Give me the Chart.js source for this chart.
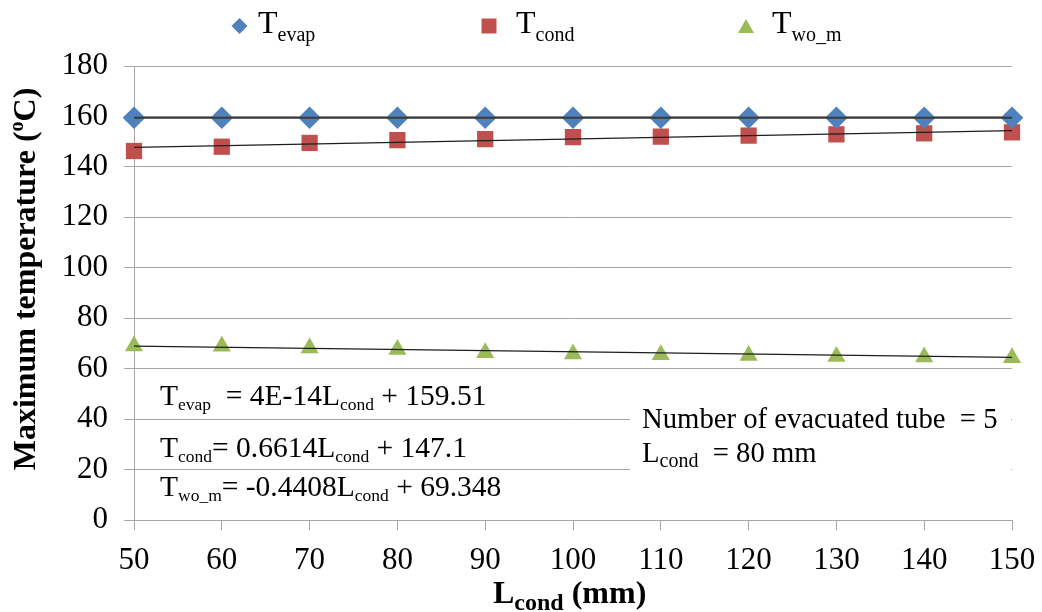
<!DOCTYPE html>
<html><head><meta charset="utf-8">
<script src="https://cdn.jsdelivr.net/npm/chart.js@4.4.1/dist/chart.umd.min.js"></script>
<style>html,body{margin:0;padding:0;background:#fff;} canvas{display:block;}</style>
</head><body>
<canvas id="c" width="1042" height="612"></canvas>
<script>
// ---- data ----
const lCond = [50, 60, 70, 80, 90, 100, 110, 120, 130, 140, 150];
const tEvap = [159.5, 159.5, 159.5, 159.5, 159.5, 159.5, 159.5, 159.5, 159.5, 159.5, 159.5];
const tCond = [146.3, 148.0, 149.5, 150.6, 151.0, 151.8, 152.0, 152.4, 152.9, 153.3, 153.7];
const tWoM  = [69.0, 68.9, 68.2, 67.6, 66.3, 65.8, 65.5, 65.2, 64.8, 64.6, 64.3];
const trendX = [50, 150];
const tEvapTrend = [159.51, 159.51];
const tCondTrend = [147.76, 154.38];
const tWoMTrend  = [68.91, 64.50];
const xTicks = [50, 60, 70, 80, 90, 100, 110, 120, 130, 140, 150];
const yTicks = [0, 20, 40, 60, 80, 100, 120, 140, 160, 180];

const FAM = '"Liberation Serif", "Times New Roman", serif';
const BLUE = '#4F81BD', RED = '#C0504D', GREEN = '#9BBB59', GRID = '#A6A6A6';

Chart.defaults.font.family = FAM;

function pts(xs, ys) { return xs.map((x, i) => ({ x: x, y: ys[i] })); }

function rich(ctx, x, y, parts) {
  for (const p of parts) {
    ctx.font = (p.bold ? 'bold ' : '') + p.size + 'px ' + FAM;
    ctx.fillText(p.t, x, y + (p.dy || 0));
    x += ctx.measureText(p.t).width;
  }
  return x;
}
function richWidth(ctx, parts) {
  let w = 0;
  for (const p of parts) {
    ctx.font = (p.bold ? 'bold ' : '') + p.size + 'px ' + FAM;
    w += ctx.measureText(p.t).width;
  }
  return w;
}

const decor = {
  id: 'decor',
  afterDatasetsDraw(chart) {
    const ctx = chart.ctx;
    ctx.save();
    ctx.fillStyle = '#fff';
    ctx.fillRect(630, 385, 381, 115);
    ctx.restore();
  },
  afterDraw(chart) {
    const ctx = chart.ctx;
    ctx.save();
    ctx.fillStyle = '#000';
    ctx.textBaseline = 'alphabetic';
    ctx.textAlign = 'left';

    // legend markers
    ctx.fillStyle = BLUE;
    ctx.beginPath();
    ctx.moveTo(239.5, 18); ctx.lineTo(247.5, 26); ctx.lineTo(239.5, 34); ctx.lineTo(231.5, 26);
    ctx.closePath(); ctx.fill();
    ctx.fillStyle = RED;
    ctx.fillRect(481.5, 18.5, 15, 15);
    ctx.fillStyle = GREEN;
    ctx.beginPath();
    ctx.moveTo(746, 19); ctx.lineTo(754, 33); ctx.lineTo(738, 33);
    ctx.closePath(); ctx.fill();

    ctx.fillStyle = '#000';
    rich(ctx, 258, 33, [{t:'T', size:32}, {t:'evap', size:20, dy:8}]);
    rich(ctx, 516, 33, [{t:'T', size:32}, {t:'cond', size:20, dy:8}]);
    rich(ctx, 772, 33, [{t:'T', size:32}, {t:'wo_m', size:20, dy:8}]);

    // equations
    rich(ctx, 160, 405, [{t:'T', size:29.5}, {t:'evap', size:17.5, dy:5}, {t:'  = 4E-14L', size:29.5}, {t:'cond', size:17.5, dy:5}, {t:' + 159.51', size:29.5}]);
    rich(ctx, 160, 457, [{t:'T', size:29.5}, {t:'cond', size:17.5, dy:5}, {t:'= 0.6614L', size:29.5}, {t:'cond', size:17.5, dy:5}, {t:' + 147.1', size:29.5}]);
    rich(ctx, 160, 496, [{t:'T', size:29.5}, {t:'wo_m', size:17.5, dy:5}, {t:'= -0.4408L', size:29.5}, {t:'cond', size:17.5, dy:5}, {t:' + 69.348', size:29.5}]);

    // conditions box
    rich(ctx, 642, 428, [{t:'Number of evacuated tube  = 5', size:28.7}]);
    rich(ctx, 642, 462, [{t:'L', size:28.7}, {t:'cond', size:20, dy:5}, {t:'  = 80 mm', size:28.7}]);

    // x title
    rich(ctx, 493, 603, [{t:'L', size:32, bold:true}, {t:'cond', size:24, bold:true, dy:7}, {t:' (mm)', size:32, bold:true}]);

    // y title
    const yParts = [{t:'Maximum temperature (', size:32, bold:true}, {t:'o', size:20, bold:true, dy:-12}, {t:'C)', size:32, bold:true}];
    const w = richWidth(ctx, yParts);
    ctx.translate(35, 279);
    ctx.rotate(-Math.PI / 2);
    rich(ctx, -w / 2, 0, yParts);
    ctx.restore();
  }
};

new Chart(document.getElementById('c'), {
  type: 'scatter',
  data: {
    datasets: [
      { type: 'line', data: pts(trendX, tEvapTrend), borderColor: '#3a3a3a', borderWidth: 2, pointRadius: 0, fill: false, order: 1, clip: false },
      { type: 'line', data: pts(trendX, tCondTrend), borderColor: '#1e1e1e', borderWidth: 1.3, pointRadius: 0, fill: false, order: 1, clip: false },
      { type: 'line', data: pts(trendX, tWoMTrend), borderColor: '#1e1e1e', borderWidth: 1.3, pointRadius: 0, fill: false, order: 1, clip: false },
      { label: 'Tevap', data: pts(lCond, tEvap), pointStyle: 'rectRot', pointRadius: 11.3, backgroundColor: BLUE, borderColor: BLUE, borderWidth: 0, order: 2, clip: false },
      { label: 'Tcond', data: pts(lCond, tCond), pointStyle: 'rect', pointRadius: 11.5, backgroundColor: RED, borderColor: RED, borderWidth: 0, order: 2, clip: false },
      { label: 'Two_m', data: pts(lCond, tWoM), pointStyle: 'triangle', pointRadius: 10.5, backgroundColor: GREEN, borderColor: GREEN, borderWidth: 0, order: 2, clip: false }
    ]
  },
  options: {
    responsive: false,
    animation: false,
    layout: { autoPadding: false, padding: { top: 66, right: 30, left: 0, bottom: 0 } },
    plugins: { legend: { display: false }, tooltip: { enabled: false } },
    scales: {
      x: {
        type: 'linear', min: 50, max: 150,
        afterBuildTicks: s => { s.ticks = xTicks.map(v => ({ value: v })); },
        afterFit: s => { s.height = 92; s.paddingLeft = 0; s.paddingRight = 0; },
        ticks: { font: { size: 31 }, color: '#000', padding: 12, maxRotation: 0, autoSkip: false },
        grid: { drawOnChartArea: false, drawTicks: true, tickLength: 10, color: GRID },
        border: { display: true, color: GRID }
      },
      y: {
        min: 0, max: 180,
        afterBuildTicks: s => { s.ticks = yTicks.map(v => ({ value: v })); },
        afterFit: s => { s.width = 134; s.paddingTop = 0; s.paddingBottom = 0; },
        ticks: { font: { size: 31 }, color: '#000', padding: 16 },
        grid: { drawTicks: true, tickLength: 10, color: GRID },
        border: { display: true, color: GRID }
      }
    }
  },
  plugins: [decor]
});
</script>
</body></html>
